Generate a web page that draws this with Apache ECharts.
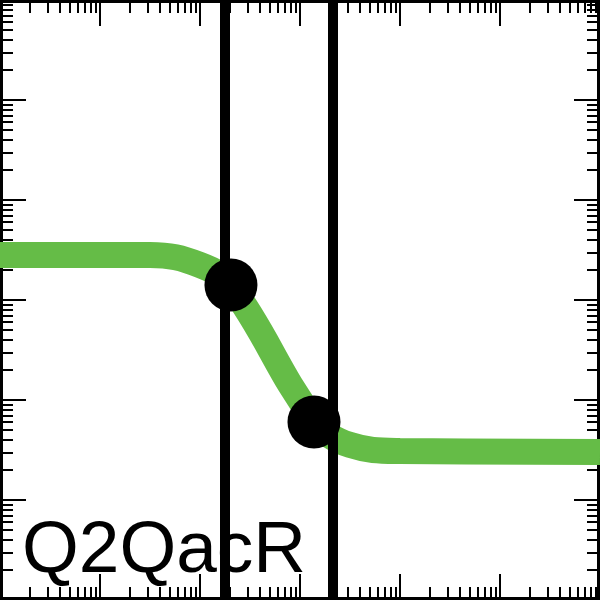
<!DOCTYPE html>
<html>
<head>
<meta charset="utf-8">
<script src="https://cdn.jsdelivr.net/npm/echarts@6/dist/echarts.min.js"></script>
<style>html,body{margin:0;padding:0;background:#fff}#c{width:600px;height:600px}</style>
</head>
<body>
<div id="c"></div>
<script>
// Curve (x, y)
const curveX = [1, 31.6, 100, 204, 1380, 3162, 10000, 1000000];
const curveY = [2818, 2818, 2239, 1380, 63.1, 35.5, 30.9, 30.2];
// Black points
const pointX = [204, 1380];
const pointY = [1413, 60.3];
// Vertical lines
const vLines = [178, 2138];
// Tick values
const majorTicks = [1, 10, 100, 1000, 10000, 100000, 1000000];
const minorMult = [2, 3, 4, 5, 6, 7, 8, 9];
const minorTicks = [];
majorTicks.slice(0, -1).forEach(d => minorMult.forEach(m => minorTicks.push(d * m)));
const label = 'Q2QacR';

const chart = echarts.init(document.getElementById('c'), null, {renderer: 'canvas'});
function ax(pos, ticks, len, showLine) {
  return {
    type: 'log', logBase: 10, min: 1, max: 1000000, position: pos,
    axisLine: {show: showLine, lineStyle: {color: '#000', width: 6}},
    axisTick: {show: true, inside: true, length: len, customValues: ticks, lineStyle: {color: '#000', width: 2}},
    axisLabel: {show: false},
    splitLine: {show: false},
    minorTick: {show: false}
  };
}
chart.setOption({
  animation: false,
  backgroundColor: '#fff',
  grid: {left: 0, right: 0, top: 0, bottom: 0, containLabel: false},
  xAxis: [ax('bottom', majorTicks, 26, true), ax('bottom', minorTicks, 13, false), ax('top', majorTicks, 26, true), ax('top', minorTicks, 13, false)],
  yAxis: [ax('left', majorTicks, 26, true), ax('left', minorTicks, 13, false), ax('right', majorTicks, 26, true), ax('right', minorTicks, 13, false)],
  series: [
    {
      type: 'line', data: [], z: 1, silent: true,
      markLine: {
        silent: true, symbol: 'none', label: {show: false},
        lineStyle: {color: '#000', width: 10, type: 'solid', opacity: 1},
        data: vLines.map(v => ({xAxis: v}))
      }
    },
    {
      type: 'line', z: 2, smooth: 0.4, showSymbol: false,
      lineStyle: {color: '#65bc47', width: 26, cap: 'butt', opacity: 1},
      data: curveX.map((x, i) => [x, curveY[i]])
    },
    {
      type: 'scatter', z: 3, symbolSize: 53,
      itemStyle: {color: '#000', opacity: 1},
      data: pointX.map((x, i) => [x, pointY[i]])
    }
  ],
  graphic: [{
    type: 'text', z: 10, x: 22, y: 552,
    style: {text: label, fontSize: 73, fontFamily: '"Liberation Sans", Arial, Helvetica, sans-serif', fill: '#000', verticalAlign: 'middle', align: 'left'}
  }]
});
</script>
</body>
</html>
